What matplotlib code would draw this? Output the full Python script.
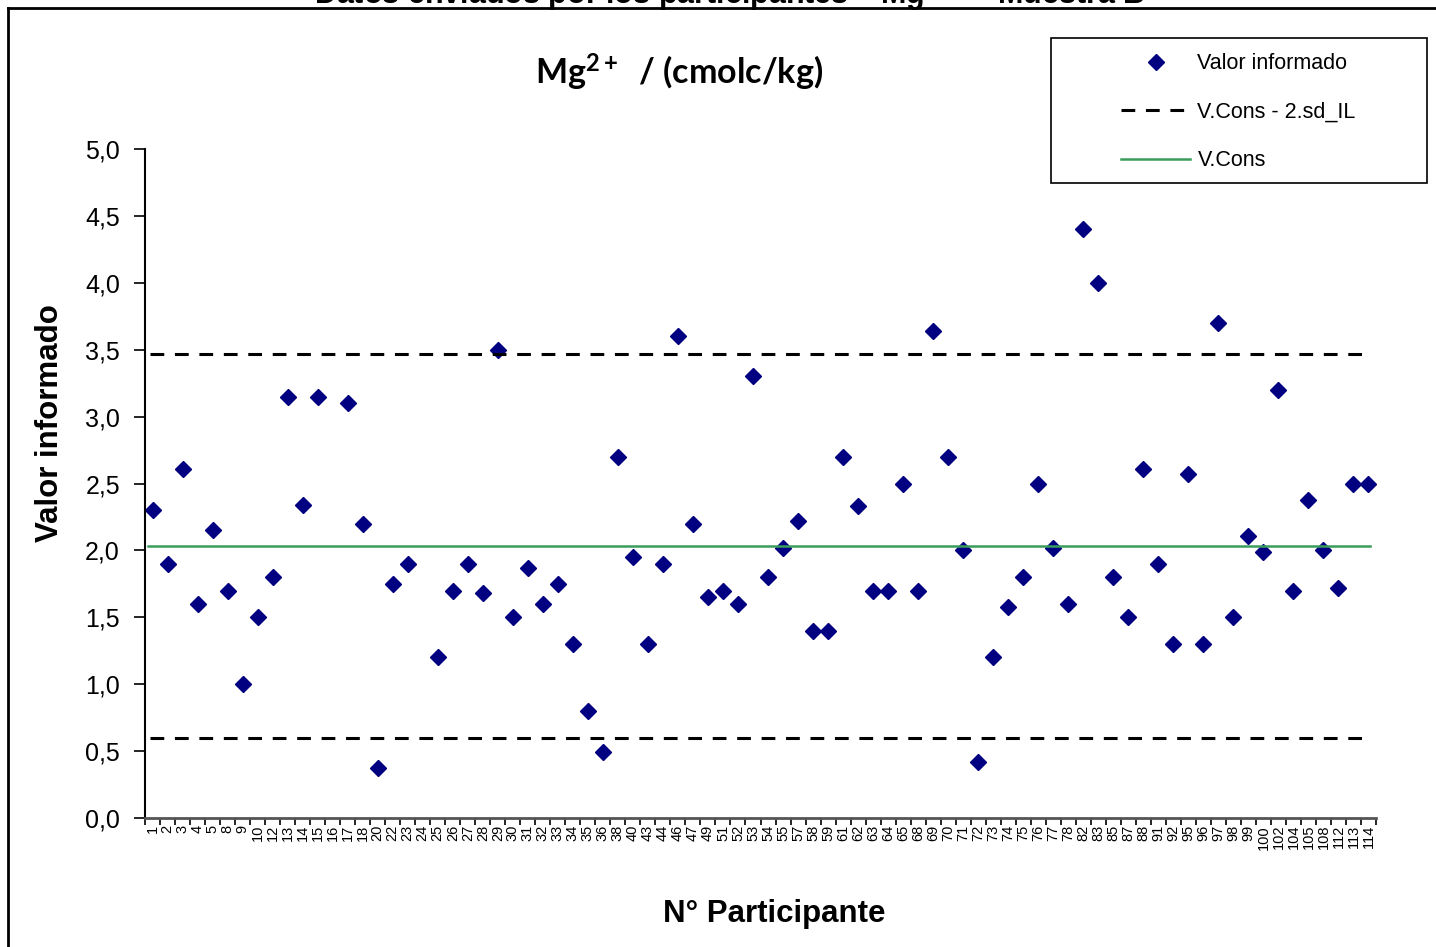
#!/usr/bin/python

import numpy as np
import matplotlib
matplotlib.use('Agg')
import matplotlib.pyplot as plt
from matplotlib.lines import Line2D

# Participant numbers (x categories)
participantes = ['1', '2', '3', '4', '5', '8', '9', '10', '12', '13', '14', '15', '16', '17',
                 '18', '20', '22', '23', '24', '25', '26', '27', '28', '29', '30', '31', '32',
                 '33', '34', '35', '36', '38', '40', '43', '44', '46', '47', '49', '51', '52',
                 '53', '54', '55', '57', '58', '59', '61', '62', '63', '64', '65', '68', '69',
                 '70', '71', '72', '73', '74', '75', '76', '77', '78', '82', '83', '85', '87',
                 '88', '91', '92', '95', '96', '97', '98', '99', '100', '102', '104', '105',
                 '108', '112', '113', '114']

# Reported values (nan = not reported)
valores = [2.30, 1.90, 2.61, 1.60, 2.15, 1.70, 1.00, 1.50, 1.80, 3.15, 2.34, 3.15, np.nan, 3.10,
           2.20, 0.37, 1.75, 1.90, np.nan, 1.20, 1.70, 1.90, 1.68, 3.50, 1.50, 1.87, 1.60,
           1.75, 1.30, 0.80, 0.49, 2.70, 1.95, 1.30, 1.90, 3.60, 2.20, 1.65, 1.70, 1.60,
           3.30, 1.80, 2.02, 2.22, 1.40, 1.40, 2.70, 2.33, 1.70, 1.70, 2.50, 1.70, 3.64,
           2.70, 2.00, 0.42, 1.20, 1.58, 1.80, 2.50, 2.02, 1.60, 4.40, 4.00, 1.80, 1.50,
           2.61, 1.90, 1.30, 2.57, 1.30, 3.70, 1.50, 2.11, 1.99, 3.20, 1.70, 2.38,
           2.00, 1.72, 2.50, 2.50]

v_cons = 2.03
lim_sup = 3.47
lim_inf = 0.60

y_ticks = [0.0, 0.5, 1.0, 1.5, 2.0, 2.5, 3.0, 3.5, 4.0, 4.5, 5.0]


def main():
    W, H = 1436, 947
    fig = plt.figure(figsize=(W / 100, H / 100), dpi=100)
    plt.rcParams['font.family'] = ['Liberation Sans', 'DejaVu Sans']

    # outer chart frame (only top/left visible) and cut-off main title
    fig.add_artist(Line2D([8 / W, 1], [1 - 8 / H, 1 - 8 / H], color='black', lw=2,
                          transform=fig.transFigure))
    fig.add_artist(Line2D([8 / W, 8 / W], [0, 1 - 8 / H], color='black', lw=2,
                          transform=fig.transFigure))
    fig.text(730 / W, 1 - 4 / H, 'Datos enviados por los participantes \u2013 Mg$^{2+}$ \u2013 Muestra B',
             ha='center', va='baseline', fontsize=22, fontweight='bold')

    ax = fig.add_axes([145 / W, 1 - 818 / H, (1376 - 145) / W, (818 - 149) / H])

    x = np.arange(len(participantes))
    ax.plot(x, valores, linestyle='none', marker='D', markersize=8.5, color='#000080',
            label='Valor informado')
    ax.plot([-0.2, 80.7], [lim_sup, lim_sup], color='black', linestyle=(0, (4.5, 3.5)), lw=2.2,
            label='V.Cons - 2.sd_IL')
    ax.plot([-0.2, 80.7], [lim_inf, lim_inf], color='black', linestyle=(0, (4.5, 3.5)), lw=2.2)
    ax.plot([-0.3, 81.1], [v_cons, v_cons], color='#3a9d5d', lw=1.8, label='V.Cons')

    ax.set_xlim(-0.5, len(participantes) - 0.5)
    ax.set_ylim(0, 5)
    ax.set_yticks(y_ticks)
    ax.set_yticklabels([('%.1f' % v).replace('.', ',') for v in y_ticks], fontsize=18)

    # ticks at category boundaries, labels at centers
    ax.set_xticks(np.arange(len(participantes) + 1) - 0.5)
    ax.set_xticklabels([])
    ax.set_xticks(x, minor=True)
    ax.set_xticklabels(participantes, minor=True, rotation=90, fontsize=10.5)
    ax.tick_params(axis='x', which='major', direction='out', length=5, width=1.2)
    ax.tick_params(axis='x', which='minor', length=0, pad=5)
    ax.tick_params(axis='y', direction='out', length=8, width=1.2, pad=10)

    for s in ['top', 'right']:
        ax.spines[s].set_visible(False)
    ax.spines['left'].set_linewidth(1.5)
    ax.spines['bottom'].set_linewidth(2)
    ax.spines['bottom'].set_color('#555555')

    fig.text(50 / W, 1 - 423 / H, 'Valor informado', ha='center', va='center', rotation=90,
             fontsize=22.5, fontweight='bold')
    fig.text(774 / W, 1 - 914 / H, 'N\u00b0 Participante', ha='center', va='center',
             fontsize=22.5, fontweight='bold')

    plt.rcParams['mathtext.fontset'] = 'custom'
    plt.rcParams['mathtext.rm'] = 'Lato:bold'
    plt.rcParams['mathtext.it'] = 'Lato:bold'
    plt.rcParams['mathtext.bf'] = 'Lato:bold'
    fig.text(679 / W, 1 - 72 / H, r'Mg$^{2+}$  / (cmolc/kg)', ha='center', va='center',
             fontsize=24.5, fontweight='bold', family='Lato')

    # legend box
    fig.add_artist(plt.Rectangle((1051 / W, 1 - 183 / H), (1427 - 1051) / W, (183 - 38) / H,
                                 transform=fig.transFigure, fill=False, edgecolor='black', lw=1.2))
    handles, labels = ax.get_legend_handles_labels()
    fig.legend(handles, labels, loc='upper left', bbox_to_anchor=(1106 / W, 1 - 38 / H),
               frameon=False, fontsize=15.5, handlelength=3.2, handletextpad=0.35,
               labelspacing=1.28, borderpad=0.2)

    fig.savefig('out.png', dpi=100)


if __name__ == '__main__':
    main()
